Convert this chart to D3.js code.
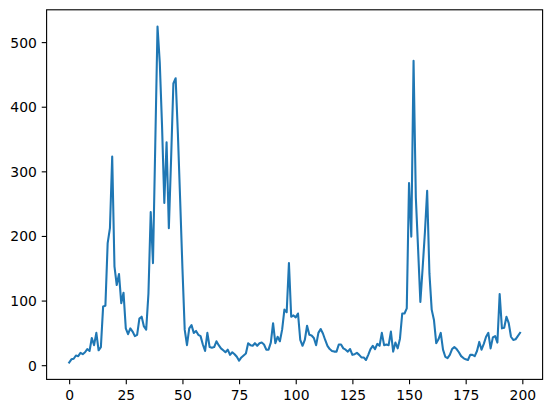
<!DOCTYPE html>
<html>
<head>
<meta charset="utf-8">
<script src="https://cdn.jsdelivr.net/npm/d3@7"></script>
<style>
  html, body { margin: 0; padding: 0; background: #fff; }
  svg { display: block; }
  text { font-family: "DejaVu Sans", sans-serif; font-size: 13.9px; fill: #000; }
</style>
</head>
<body>
<svg id="chart" width="552" height="413"></svg>
<script>
// Series values (index 0..199)
const values = [
  4, 9, 10, 15, 14, 19, 17, 20, 25, 22,
  42, 31, 50, 23, 28, 91, 92, 189, 212, 323,
  153, 124, 141, 96, 112, 57, 48, 57, 52, 45,
  47, 72, 75, 60, 55, 111, 237, 158, 340, 524,
  468, 370, 251, 345, 212, 320, 436, 444, 357, 255,
  150, 55, 31, 57, 62, 50, 53, 47, 45, 32,
  22, 50, 28, 27, 28, 37, 31, 26, 23, 20,
  24, 16, 20, 17, 13, 7, 12, 15, 18, 34,
  31, 30, 34, 30, 34, 35, 32, 24, 24, 35,
  65, 34, 44, 37, 55, 86, 82, 158, 75, 77,
  74, 80, 39, 30, 39, 61, 47, 46, 42, 31,
  50, 56, 49, 39, 30, 25, 22, 21, 21, 32,
  32, 26, 24, 21, 25, 16, 17, 19, 16, 12,
  12, 8, 16, 25, 30, 25, 33, 30, 50, 31,
  32, 31, 52, 21, 35, 26, 41, 80, 80, 88,
  282, 199, 471, 260, 180, 98, 150, 205, 270, 142,
  86, 70, 34, 40, 50, 24, 13, 11, 16, 25,
  28, 25, 20, 14, 11, 9, 8, 16, 16, 14,
  22, 36, 24, 33, 44, 50, 26, 43, 45, 35,
  110, 57, 58, 75, 65, 44, 39, 40, 45, 50
];
const xTicks = [0, 25, 50, 75, 100, 125, 150, 175, 200];
const yTicks = [0, 100, 200, 300, 400, 500];

const svg = d3.select("#chart");
const L = 46.6, R = 542.6, T = 9.8, B = 379.4;

const n = values.length;
const xPad = (n - 1) * 0.05;
const x = d3.scaleLinear().domain([-xPad, (n - 1) + xPad]).range([L, R]);
const yMin = d3.min(values), yMax = d3.max(values);
const yPad = (yMax - yMin) * 0.05;
const y = d3.scaleLinear().domain([yMin - yPad, yMax + yPad]).range([B, T]);

const tickLen = 4.86, tickPad = 4.86, axisW = 1.11;

// line
const line = d3.line().x((d, i) => x(i)).y(d => y(d));
svg.append("path")
  .datum(values)
  .attr("d", line)
  .attr("fill", "none")
  .attr("stroke", "#1f77b4")
  .attr("stroke-width", 2.08)
  .attr("stroke-linejoin", "round")
  .attr("stroke-linecap", "square");

// x axis
const xAxis = d3.axisBottom(x).tickValues(xTicks).tickSize(tickLen).tickPadding(tickPad).tickFormat(d3.format("d"));
const gx = svg.append("g").attr("transform", `translate(0,${B})`).call(xAxis);
gx.select(".domain").remove();
gx.selectAll(".tick line").attr("stroke", "#000").attr("stroke-width", axisW);
gx.selectAll(".tick text").attr("font-family", "DejaVu Sans").attr("font-size", "13.9px").attr("fill", "#000")
  .attr("dy", null).attr("y", 20.6);

// y axis
const yAxis = d3.axisLeft(y).tickValues(yTicks).tickSize(tickLen).tickPadding(tickPad).tickFormat(d3.format("d"));
const gy = svg.append("g").attr("transform", `translate(${L},0)`).call(yAxis);
gy.select(".domain").remove();
gy.selectAll(".tick line").attr("stroke", "#000").attr("stroke-width", axisW);
gy.selectAll(".tick text").attr("font-family", "DejaVu Sans").attr("font-size", "13.9px").attr("fill", "#000")
  .attr("dy", "0.36em");

// frame (spines)
svg.append("rect")
  .attr("x", L).attr("y", T)
  .attr("width", R - L).attr("height", B - T)
  .attr("fill", "none")
  .attr("stroke", "#000")
  .attr("stroke-width", axisW);
</script>
</body>
</html>
